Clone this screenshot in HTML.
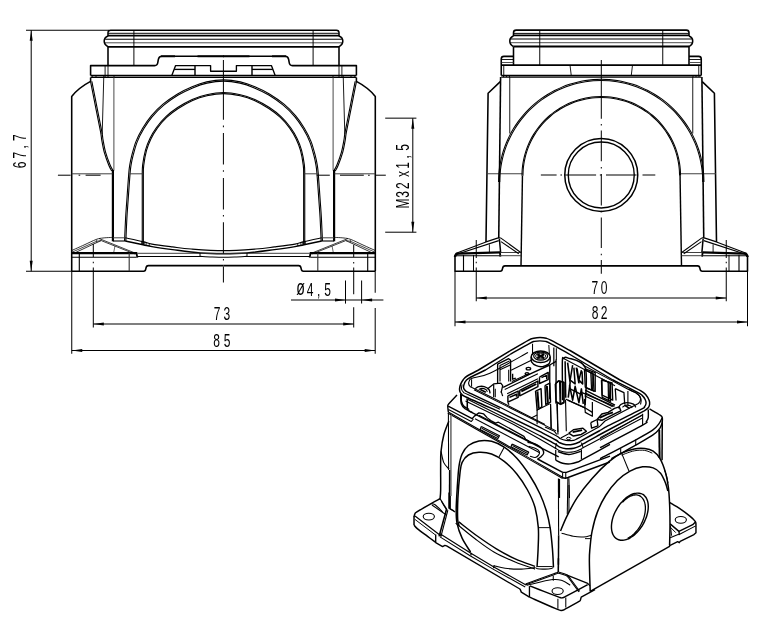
<!DOCTYPE html>
<html lang="en">
<head>
<meta charset="utf-8">
<title>Housing drawing</title>
<style>
html,body{margin:0;padding:0;background:#fff;}
body{width:760px;height:622px;overflow:hidden;}
svg{display:block;will-change:transform;}
svg path{fill:none;stroke-linecap:butt;stroke-linejoin:round;}
svg path.a{fill:#000;stroke:none;}
svg text{font-family:"Liberation Sans","DejaVu Sans",sans-serif;fill:#000;stroke:none;}
</style>
</head>
<body>
<svg width="760" height="622" viewBox="0 0 760 622">
<rect x="0" y="0" width="760" height="622" fill="#fff"/>
<path d="M108 36.2 L108 32.6" stroke="#000" stroke-width="1.57"/>
<path d="M339 36.2 L339 32.6" stroke="#000" stroke-width="1.57"/>
<path d="M108 32.8 Q108 30.2 110.6 30.2 L336.4 30.2 Q339 30.2 339 32.8" stroke="#000" stroke-width="1.57"/>
<path d="M108.2 33.3 L338.8 33.3" stroke="#000" stroke-width="0.97"/>
<path d="M108 35.6 L339 35.6" stroke="#000" stroke-width="1.8"/>
<path d="M105.2 39.2 L341.8 39.2" stroke="#000" stroke-width="1.12"/>
<path d="M104.6 42.8 L342.4 42.8" stroke="#3a3a3a" stroke-width="0.9"/>
<path d="M108 46.8 L339 46.8" stroke="#000" stroke-width="1.8"/>
<path d="M108 36 C105.6 37 104.2 38.6 104.2 41 C104.2 43.8 106 45.6 108 46.7" stroke="#000" stroke-width="1.57"/>
<path d="M339 36 C341.4 37 342.8 38.6 342.8 41 C342.8 43.8 341 45.6 339 46.7" stroke="#000" stroke-width="1.57"/>
<path d="M108 46.7 L108 65.4" stroke="#000" stroke-width="1.57"/>
<path d="M339 46.7 L339 65.4" stroke="#000" stroke-width="1.57"/>
<path d="M133.9 30.2 L133.9 65.4" stroke="#000" stroke-width="0.97"/>
<path d="M313.1 30.2 L313.1 65.4" stroke="#000" stroke-width="0.97"/>
<path d="M90.6 75.6 L90.6 65.6 L154.6 65.6 C156.6 65.6 157.6 64.6 157.9 62 L158.3 59.6 C158.8 57 159.6 56.3 161.6 56.3 L223.5 56.3" stroke="#000" stroke-width="1.57"/>
<path d="M161 56.3 L175 56.3" stroke="#000" stroke-width="1.9"/>
<path d="M197.5 56.3 L224 56.3" stroke="#000" stroke-width="1.9"/>
<path d="M356.4 75.6 L356.4 65.6 L292.4 65.6 C290.4 65.6 289.4 64.6 289.1 62 L288.7 59.6 C288.2 57 287.4 56.3 285.4 56.3 L223.5 56.3" stroke="#000" stroke-width="1.57"/>
<path d="M286 56.3 L272 56.3" stroke="#000" stroke-width="1.9"/>
<path d="M249.5 56.3 L223 56.3" stroke="#000" stroke-width="1.9"/>
<path d="M90.6 75.6 L356.4 75.6" stroke="#000" stroke-width="1.57"/>
<path d="M90.6 77.4 L356.4 77.4" stroke="#000" stroke-width="1.05"/>
<path d="M105.1 65.6 L105.1 77.4" stroke="#000" stroke-width="0.9"/>
<path d="M341.9 65.6 L341.9 77.4" stroke="#000" stroke-width="0.9"/>
<path d="M108 65.6 L108 77.4" stroke="#000" stroke-width="0.9"/>
<path d="M339 65.6 L339 77.4" stroke="#000" stroke-width="0.9"/>
<path d="M92.2 75.6 L92.2 77.4" stroke="#000" stroke-width="0.9"/>
<path d="M354.8 75.6 L354.8 77.4" stroke="#000" stroke-width="0.9"/>
<path d="M96 75.6 L96 77.4" stroke="#000" stroke-width="0.9"/>
<path d="M351 75.6 L351 77.4" stroke="#000" stroke-width="0.9"/>
<path d="M103.8 75.6 L103.8 77.4" stroke="#000" stroke-width="0.9"/>
<path d="M343.2 75.6 L343.2 77.4" stroke="#000" stroke-width="0.9"/>
<path d="M114 75.6 L114 77.4" stroke="#000" stroke-width="0.9"/>
<path d="M333 75.6 L333 77.4" stroke="#000" stroke-width="0.9"/>
<path d="M171.9 75.2 L175.6 65.6 L210.6 65.6 L210.6 71.25 L223.5 71.25" stroke="#000" stroke-width="1.35"/>
<path d="M275.1 75.2 L271.4 65.6 L236.4 65.6 L236.4 71.25 L223.5 71.25" stroke="#000" stroke-width="1.35"/>
<path d="M174.2 69.4 L195 69.4" stroke="#000" stroke-width="1.35"/>
<path d="M272.8 69.4 L252 69.4" stroke="#000" stroke-width="1.35"/>
<path d="M195 65.6 L195 75.2" stroke="#000" stroke-width="1.43"/>
<path d="M252 65.6 L252 75.2" stroke="#000" stroke-width="1.43"/>
<path d="M71.7 271.25 L71.7 96.4 Q78.85 87.6 90.6 81.4 L90.6 77.4" stroke="#000" stroke-width="1.57"/>
<path d="M375.3 271.25 L375.3 96.4 Q368.15 87.6 356.4 81.4 L356.4 77.4" stroke="#000" stroke-width="1.57"/>
<path d="M90.56 81.53C91.4 85.79 93.94 98.69 95.61 107.13C97.29 115.56 99.59 126.62 100.61 132.12C101.64 137.62 101.13 136.69 101.76 140.12C102.39 143.54 103.2 148.49 104.37 152.68C105.55 156.86 107.58 162.21 108.8 165.24C110.01 168.28 111.19 169.95 111.67 170.89" stroke="#000" stroke-width="1.09"/>
<path d="M356.44 81.53C355.6 85.79 353.06 98.69 351.39 107.13C349.71 115.56 347.41 126.62 346.39 132.12C345.36 137.62 345.87 136.69 345.24 140.12C344.61 143.54 343.8 148.49 342.63 152.68C341.45 156.86 339.42 162.21 338.2 165.24C336.99 168.28 335.81 169.95 335.33 170.89" stroke="#000" stroke-width="1.09"/>
<path d="M91.84 81.27C92.68 85.54 95.21 98.44 96.89 106.87C98.56 115.31 100.86 126.38 101.89 131.88C102.91 137.38 102.42 136.48 103.04 139.88C103.66 143.29 104.47 148.18 105.63 152.32C106.79 156.47 108.8 161.76 110 164.76C111.2 167.76 112.36 169.38 112.83 170.31" stroke="#000" stroke-width="1.09"/>
<path d="M355.16 81.27C354.32 85.54 351.79 98.44 350.11 106.87C348.44 115.31 346.14 126.38 345.11 131.88C344.09 137.38 344.58 136.48 343.96 139.88C343.34 143.29 342.53 148.18 341.37 152.32C340.21 156.47 338.2 161.76 337 164.76C335.8 167.76 334.64 169.38 334.17 170.31" stroke="#000" stroke-width="1.09"/>
<path d="M103.75 77.4 L102.2 134" stroke="#000" stroke-width="0.9"/>
<path d="M343.25 77.4 L344.8 134" stroke="#000" stroke-width="0.9"/>
<path d="M113.9 77.4 L113.9 170.6" stroke="#444" stroke-width="0.97"/>
<path d="M333.1 77.4 L333.1 170.6" stroke="#444" stroke-width="0.97"/>
<path d="M112.9 170 L112.9 241.3" stroke="#000" stroke-width="2.2"/>
<path d="M334.1 170 L334.1 241.3" stroke="#000" stroke-width="2.2"/>
<path d="M71.7 173.8 L112.5 173.8" stroke="#3a3a3a" stroke-width="0.97"/>
<path d="M375.3 173.8 L334.5 173.8" stroke="#3a3a3a" stroke-width="0.97"/>
<path d="M125.85 241.03C126.02 237.2 126.52 224.87 126.9 218.04C127.28 211.21 127.62 207.46 128.15 200.05C128.67 192.63 129.57 179.38 130.05 173.55C130.53 167.73 130.56 168 131.04 165.11C131.52 162.21 131.9 160.04 132.93 156.17C133.96 152.29 135.4 146.39 137.2 141.84C139.01 137.28 141.24 133.04 143.76 128.83C146.27 124.63 148.95 120.56 152.3 116.62C155.64 112.68 159.49 108.79 163.82 105.2C168.14 101.61 173.43 97.94 178.23 95.06C183.04 92.17 187.87 89.89 192.65 87.9C197.43 85.91 201.8 84.26 206.94 83.13C212.08 82.01 217.98 81.15 223.5 81.15C229.02 81.15 234.92 82.01 240.06 83.13C245.2 84.26 249.57 85.91 254.35 87.9C259.13 89.89 263.96 92.17 268.77 95.06C273.57 97.94 278.86 101.61 283.18 105.2C287.51 108.79 291.36 112.68 294.7 116.62C298.05 120.56 300.73 124.63 303.24 128.83C305.76 133.04 307.99 137.28 309.8 141.84C311.6 146.39 313.04 152.29 314.07 156.17C315.1 160.04 315.48 162.21 315.96 165.11C316.44 168 316.47 167.73 316.95 173.55C317.43 179.38 318.33 192.63 318.85 200.05C319.38 207.46 319.72 211.21 320.1 218.04C320.48 224.87 320.98 237.2 321.15 241.03" stroke="#000" stroke-width="1.09"/>
<path d="M124.55 240.97C124.73 237.14 125.22 224.8 125.6 217.96C125.98 211.13 126.33 207.37 126.85 199.95C127.38 192.53 128.27 179.29 128.75 173.45C129.24 167.6 129.27 167.83 129.76 164.89C130.25 161.96 130.63 159.76 131.67 155.83C132.71 151.91 134.17 145.97 136 141.36C137.82 136.75 140.09 132.43 142.64 128.17C145.19 123.9 147.91 119.77 151.3 115.78C154.69 111.79 158.61 107.84 162.98 104.2C167.36 100.56 172.7 96.86 177.57 93.94C182.43 91.03 187.3 88.71 192.15 86.7C197 84.69 201.44 83.01 206.66 81.87C211.89 80.72 217.89 79.85 223.5 79.85C229.11 79.85 235.11 80.72 240.34 81.87C245.56 83.01 250 84.69 254.85 86.7C259.7 88.71 264.57 91.03 269.43 93.94C274.3 96.86 279.64 100.56 284.02 104.2C288.39 107.84 292.31 111.79 295.7 115.78C299.09 119.77 301.81 123.9 304.36 128.17C306.91 132.43 309.18 136.75 311 141.36C312.83 145.97 314.29 151.91 315.33 155.83C316.37 159.76 316.75 161.96 317.24 164.89C317.73 167.83 317.76 167.6 318.25 173.45C318.73 179.29 319.62 192.53 320.15 199.95C320.67 207.37 321.02 211.13 321.4 217.96C321.78 224.8 322.27 237.14 322.45 240.97" stroke="#000" stroke-width="1.09"/>
<path d="M143.35 244.7C143.35 237.25 143.35 211.45 143.35 200C143.35 188.55 143.28 181.83 143.35 176.01C143.42 170.18 143.22 169.33 143.75 165.07C144.28 160.81 145.34 154.8 146.53 150.45C147.72 146.09 149.09 142.66 150.89 138.94C152.7 135.22 154.71 131.72 157.34 128.13C159.97 124.54 163.2 120.68 166.68 117.4C170.15 114.12 173.88 111.29 178.2 108.46C182.53 105.63 187.84 102.51 192.62 100.4C197.41 98.3 201.77 96.96 206.92 95.84C212.06 94.71 217.97 93.65 223.5 93.65C229.03 93.65 234.94 94.71 240.08 95.84C245.23 96.96 249.59 98.3 254.38 100.4C259.16 102.51 264.47 105.63 268.8 108.46C273.12 111.29 276.85 114.12 280.32 117.4C283.8 120.68 287.03 124.54 289.66 128.13C292.29 131.72 294.3 135.22 296.11 138.94C297.91 142.66 299.28 146.09 300.47 150.45C301.66 154.8 302.72 160.81 303.25 165.07C303.78 169.33 303.58 170.18 303.65 176.01C303.72 181.83 303.65 188.55 303.65 200C303.65 211.45 303.65 237.25 303.65 244.7" stroke="#000" stroke-width="1.09"/>
<path d="M142.25 244.7C142.25 237.25 142.25 211.45 142.25 200C142.25 188.55 142.18 181.84 142.25 175.99C142.32 170.15 142.12 169.24 142.65 164.93C143.19 160.63 144.26 154.57 145.47 150.15C146.68 145.74 148.07 142.24 149.91 138.46C151.74 134.68 153.79 131.12 156.46 127.47C159.13 123.83 162.4 119.92 165.92 116.6C169.45 113.28 173.22 110.41 177.6 107.54C181.97 104.67 187.33 101.53 192.18 99.4C197.03 97.27 201.46 95.9 206.68 94.76C211.9 93.62 217.89 92.55 223.5 92.55C229.11 92.55 235.1 93.62 240.32 94.76C245.54 95.9 249.97 97.27 254.82 99.4C259.67 101.53 265.03 104.67 269.4 107.54C273.78 110.41 277.55 113.28 281.08 116.6C284.6 119.92 287.87 123.83 290.54 127.47C293.21 131.12 295.26 134.68 297.09 138.46C298.93 142.24 300.32 145.74 301.53 150.15C302.74 154.57 303.81 160.63 304.35 164.93C304.88 169.24 304.68 170.15 304.75 175.99C304.82 181.84 304.75 188.55 304.75 200C304.75 211.45 304.75 237.25 304.75 244.7" stroke="#000" stroke-width="1.09"/>
<path d="M129.4 173.8 L142.6 173.8" stroke="#3a3a3a" stroke-width="0.97"/>
<path d="M317.6 173.8 L304.4 173.8" stroke="#3a3a3a" stroke-width="0.97"/>
<path d="M125.2 237.8C128.17 238.43 138.53 240.55 143 241.6C147.47 242.65 147.08 243.22 152 244.1C156.92 244.98 165.96 246.08 172.5 246.9C179.04 247.72 182.75 248.38 191.25 249C199.75 249.62 212.75 250.6 223.5 250.6C234.25 250.6 247.25 249.62 255.75 249C264.25 248.38 267.96 247.72 274.5 246.9C281.04 246.08 290.08 244.98 295 244.1C299.92 243.22 299.53 242.65 304 241.6C308.47 240.55 318.83 238.43 321.8 237.8" stroke="#000" stroke-width="1.12"/>
<path d="M125.2 241C128.17 241.62 138.53 243.77 143 244.7C147.47 245.63 147.08 245.78 152 246.6C156.92 247.42 164.5 248.53 172.5 249.6C180.5 250.67 191.5 252.3 200 253C208.5 253.7 215.67 253.8 223.5 253.8C231.33 253.8 238.5 253.7 247 253C255.5 252.3 266.5 250.67 274.5 249.6C282.5 248.53 290.08 247.42 295 246.6C299.92 245.78 299.53 245.63 304 244.7C308.47 243.77 318.83 241.62 321.8 241" stroke="#000" stroke-width="1.43"/>
<path d="M200 256.4C202 256.5 208.08 256.85 212 257C215.92 257.15 219.67 257.3 223.5 257.3C227.33 257.3 231.08 257.15 235 257C238.92 256.85 245 256.5 247 256.4" stroke="#000" stroke-width="1.09"/>
<path d="M141.9 241.3 L141.6 244.36" stroke="#000" stroke-width="0.82"/>
<path d="M305.1 241.3 L305.4 244.36" stroke="#000" stroke-width="0.82"/>
<path d="M144.4 241.98 L144.1 244.91" stroke="#000" stroke-width="0.82"/>
<path d="M302.6 241.98 L302.9 244.91" stroke="#000" stroke-width="0.82"/>
<path d="M146.25 242.48 L145.95 245.31" stroke="#000" stroke-width="0.82"/>
<path d="M300.75 242.48 L301.05 245.31" stroke="#000" stroke-width="0.82"/>
<path d="M149.4 243.33 L149.1 246.01" stroke="#000" stroke-width="0.82"/>
<path d="M297.6 243.33 L297.9 246.01" stroke="#000" stroke-width="0.82"/>
<path d="M71.7 271.25 L143.6 271.25 C145.2 271.25 145.6 270.6 145.9 268.4 C146.2 266.2 146.8 265.6 148.4 265.6 L223.5 265.6" stroke="#000" stroke-width="1.57"/>
<path d="M375.3 271.25 L303.4 271.25 C301.8 271.25 301.4 270.6 301.1 268.4 C300.8 266.2 300.2 265.6 298.6 265.6 L223.5 265.6" stroke="#000" stroke-width="1.57"/>
<path d="M71.7 253.2 L137.2 253.2" stroke="#000" stroke-width="2.2"/>
<path d="M375.3 253.2 L309.8 253.2" stroke="#000" stroke-width="2.2"/>
<path d="M71.7 257.2 L136.5 257.2" stroke="#000" stroke-width="1.05"/>
<path d="M375.3 257.2 L310.5 257.2" stroke="#000" stroke-width="1.05"/>
<path d="M136.3 252.6 L137.4 257.6" stroke="#000" stroke-width="1.8"/>
<path d="M310.7 252.6 L309.6 257.6" stroke="#000" stroke-width="1.8"/>
<path d="M137.5 253.3 L309.5 253.3" stroke="#3a3a3a" stroke-width="0.97"/>
<path d="M137.5 256.4 L200 256.4" stroke="#000" stroke-width="1.05"/>
<path d="M309.5 256.4 L247 256.4" stroke="#000" stroke-width="1.05"/>
<path d="M200 253 L200 257" stroke="#000" stroke-width="0.97"/>
<path d="M247 253 L247 257" stroke="#000" stroke-width="0.97"/>
<path d="M79.3 254 L79.3 271.25" stroke="#000" stroke-width="1.12"/>
<path d="M367.7 254 L367.7 271.25" stroke="#000" stroke-width="1.12"/>
<path d="M129.2 253 L129.2 271.25" stroke="#333" stroke-width="1.12"/>
<path d="M317.8 253 L317.8 271.25" stroke="#333" stroke-width="1.12"/>
<path d="M72 250.4C74 249.5 79.95 246.83 84 245C88.05 243.17 93.13 240.57 96.3 239.4C99.47 238.23 100.68 238.32 103 238C105.32 237.68 108.53 237.58 110.2 237.5C111.87 237.42 112.53 237.5 113 237.5" stroke="#000" stroke-width="0.8"/>
<path d="M375 250.4C373 249.5 367.05 246.83 363 245C358.95 243.17 353.87 240.57 350.7 239.4C347.53 238.23 346.32 238.32 344 238C341.68 237.68 338.47 237.58 336.8 237.5C335.13 237.42 334.47 237.5 334 237.5" stroke="#000" stroke-width="0.8"/>
<path d="M113 237.8 L125.2 237.8" stroke="#3a3a3a" stroke-width="0.97"/>
<path d="M334 237.8 L321.8 237.8" stroke="#3a3a3a" stroke-width="0.97"/>
<path d="M113 241 L125.2 241" stroke="#000" stroke-width="1.12"/>
<path d="M334 241 L321.8 241" stroke="#000" stroke-width="1.12"/>
<path d="M72 252.2 L96.5 241.3 L101.4 240.5" stroke="#000" stroke-width="0.7"/>
<path d="M375 252.2 L350.5 241.3 L345.6 240.5" stroke="#000" stroke-width="0.7"/>
<path d="M74.5 253 L93.2 244.2 L101.4 240.5" stroke="#000" stroke-width="0.8"/>
<path d="M372.5 253 L353.8 244.2 L345.6 240.5" stroke="#000" stroke-width="0.8"/>
<path d="M96.6 239.5 L96.6 242.5" stroke="#000" stroke-width="0.6"/>
<path d="M350.4 239.5 L350.4 242.5" stroke="#000" stroke-width="0.6"/>
<path d="M99 238.5 L137.2 253.9" stroke="#000" stroke-width="0.75"/>
<path d="M348 238.5 L309.8 253.9" stroke="#000" stroke-width="0.75"/>
<path d="M101.4 240.7 L134.6 253.9" stroke="#000" stroke-width="0.75"/>
<path d="M345.6 240.7 L312.4 253.9" stroke="#000" stroke-width="0.75"/>
<path d="M115 245.7 L113.8 252" stroke="#000" stroke-width="0.6"/>
<path d="M332 245.7 L333.2 252" stroke="#000" stroke-width="0.6"/>
<path d="M513.5 36 L513.5 32.8 Q513.5 30.1 516.2 30.1 L686.3 30.1 Q689 30.1 689 32.8 L689 36" stroke="#000" stroke-width="1.57"/>
<path d="M513.7 33.4 L688.8 33.4" stroke="#000" stroke-width="0.97"/>
<path d="M513.5 35.4 L689 35.4" stroke="#000" stroke-width="1.8"/>
<path d="M510.8 39 L691.7 39" stroke="#000" stroke-width="1.12"/>
<path d="M510.2 42.7 L692.3 42.7" stroke="#3a3a3a" stroke-width="0.9"/>
<path d="M513.5 46.5 L689 46.5" stroke="#000" stroke-width="1.8"/>
<path d="M513.5 36 C511.1 37 509.8 38.6 509.8 41 C509.8 43.8 511.5 45.6 513.5 46.5" stroke="#000" stroke-width="1.57"/>
<path d="M689 36 C691.4 37 692.7 38.6 692.7 41 C692.7 43.8 691 45.6 689 46.5" stroke="#000" stroke-width="1.57"/>
<path d="M513.5 46.5 L513.5 65" stroke="#000" stroke-width="1.57"/>
<path d="M689 46.5 L689 65" stroke="#000" stroke-width="1.57"/>
<path d="M539.75 30.1 L539.75 65" stroke="#000" stroke-width="0.97"/>
<path d="M662.75 30.1 L662.75 65" stroke="#000" stroke-width="0.97"/>
<path d="M501.25 65.1 L701.25 65.1" stroke="#000" stroke-width="1.6"/>
<path d="M501.25 75.6 L501.25 59 Q501.25 56.4 503.9 56.4 L513.5 56.4" stroke="#000" stroke-width="1.57"/>
<path d="M501.6 59.5 L513.5 59.5" stroke="#000" stroke-width="0.9"/>
<path d="M501.6 62.5 L513.5 62.5" stroke="#3a3a3a" stroke-width="0.9"/>
<path d="M503.75 65.1 L503.75 75.5" stroke="#000" stroke-width="0.9"/>
<path d="M570 65.1 L571.25 75.5" stroke="#000" stroke-width="0.9"/>
<path d="M701.25 75.6 L701.25 59 Q701.25 56.4 698.6 56.4 L689 56.4" stroke="#000" stroke-width="1.57"/>
<path d="M700.9 59.5 L689 59.5" stroke="#000" stroke-width="0.9"/>
<path d="M700.9 62.5 L689 62.5" stroke="#3a3a3a" stroke-width="0.9"/>
<path d="M698.75 65.1 L698.75 75.5" stroke="#000" stroke-width="0.9"/>
<path d="M632.5 65.1 L631.25 75.5" stroke="#000" stroke-width="0.9"/>
<path d="M501.25 75.5 L701.25 75.5" stroke="#000" stroke-width="1.57"/>
<path d="M501.25 77.1 L701.25 77.1" stroke="#000" stroke-width="1.05"/>
<path d="M503.5 75.5 L503.5 77.1" stroke="#000" stroke-width="0.9"/>
<path d="M699 75.5 L699 77.1" stroke="#000" stroke-width="0.9"/>
<path d="M506.5 75.5 L506.5 77.1" stroke="#000" stroke-width="0.9"/>
<path d="M696 75.5 L696 77.1" stroke="#000" stroke-width="0.9"/>
<path d="M509.5 75.5 L509.5 77.1" stroke="#000" stroke-width="0.9"/>
<path d="M693 75.5 L693 77.1" stroke="#000" stroke-width="0.9"/>
<path d="M500.6 77 L498.75 238.1" stroke="#000" stroke-width="1.57"/>
<path d="M701.9 77 L703.75 238.1" stroke="#000" stroke-width="1.57"/>
<path d="M509.75 77 L509.75 133.5" stroke="#000" stroke-width="0.9"/>
<path d="M692.75 77 L692.75 133.5" stroke="#000" stroke-width="0.9"/>
<path d="M500.3 81.6 L488.1 93.25 L486 241.9" stroke="#000" stroke-width="1.57"/>
<path d="M702.2 81.6 L714.4 93.25 L716.5 241.9" stroke="#000" stroke-width="1.57"/>
<path d="M486.5 173.75 L522.5 173.75" stroke="#3a3a3a" stroke-width="0.97"/>
<path d="M716 173.75 L680 173.75" stroke="#3a3a3a" stroke-width="0.97"/>
<path d="M499.75 182.02C499.8 180.69 499.85 176.69 500.06 174.04C500.27 171.39 500.58 168.74 501 166.12C501.41 163.5 501.93 160.89 502.55 158.31C503.17 155.72 503.9 153.16 504.72 150.63C505.54 148.11 506.46 145.61 507.48 143.16C508.49 140.71 509.61 138.29 510.81 135.92C512.02 133.55 513.32 131.23 514.71 128.97C516.09 126.7 517.57 124.49 519.13 122.34C520.7 120.19 522.34 118.1 524.07 116.08C525.79 114.06 527.6 112.11 529.48 110.23C531.36 108.35 533.31 106.54 535.33 104.82C537.35 103.09 539.44 101.45 541.59 99.88C543.74 98.32 545.95 96.84 548.22 95.46C550.48 94.07 552.8 92.77 555.17 91.56C557.54 90.36 559.96 89.24 562.41 88.23C564.86 87.21 567.36 86.29 569.88 85.47C572.41 84.65 574.97 83.92 577.56 83.3C580.14 82.68 582.75 82.16 585.37 81.75C587.99 81.33 590.64 81.02 593.29 80.81C595.93 80.6 598.6 80.5 601.25 80.5C603.9 80.5 606.57 80.6 609.21 80.81C611.86 81.02 614.51 81.33 617.13 81.75C619.75 82.16 622.36 82.68 624.94 83.3C627.53 83.92 630.09 84.65 632.62 85.47C635.14 86.29 637.64 87.21 640.09 88.23C642.54 89.24 644.96 90.36 647.33 91.56C649.7 92.77 652.02 94.07 654.28 95.46C656.55 96.84 658.76 98.32 660.91 99.88C663.06 101.45 665.15 103.09 667.17 104.82C669.19 106.54 671.14 108.35 673.02 110.23C674.9 112.11 676.71 114.06 678.43 116.08C680.16 118.1 681.8 120.19 683.37 122.34C684.93 124.49 686.41 126.7 687.79 128.97C689.18 131.23 690.48 133.55 691.69 135.92C692.89 138.29 694.01 140.71 695.02 143.16C696.04 145.61 696.96 148.11 697.78 150.63C698.6 153.16 699.33 155.72 699.95 158.31C700.57 160.89 701.09 163.5 701.5 166.12C701.92 168.74 702.23 171.39 702.44 174.04C702.65 176.69 702.7 180.69 702.75 182.02" stroke="#000" stroke-width="1.05"/>
<path d="M498.55 181.98C498.6 180.64 498.66 176.62 498.87 173.94C499.08 171.27 499.39 168.59 499.81 165.93C500.23 163.28 500.76 160.64 501.39 158.03C502.01 155.41 502.75 152.82 503.58 150.26C504.41 147.71 505.34 145.18 506.37 142.7C507.4 140.22 508.52 137.77 509.74 135.38C510.96 132.98 512.28 130.63 513.68 128.34C515.09 126.05 516.59 123.81 518.16 121.63C519.74 119.46 521.41 117.34 523.16 115.3C524.9 113.26 526.73 111.28 528.63 109.38C530.53 107.48 532.51 105.65 534.55 103.91C536.59 102.16 538.71 100.49 540.88 98.91C543.06 97.34 545.3 95.84 547.59 94.43C549.88 93.03 552.23 91.71 554.63 90.49C557.02 89.27 559.47 88.15 561.95 87.12C564.43 86.09 566.96 85.16 569.51 84.33C572.07 83.5 574.66 82.76 577.28 82.14C579.89 81.51 582.53 80.98 585.18 80.56C587.84 80.14 590.51 79.83 593.19 79.62C595.87 79.41 598.56 79.3 601.25 79.3C603.94 79.3 606.63 79.41 609.31 79.62C611.99 79.83 614.66 80.14 617.32 80.56C619.97 80.98 622.61 81.51 625.22 82.14C627.84 82.76 630.43 83.5 632.99 84.33C635.54 85.16 638.07 86.09 640.55 87.12C643.03 88.15 645.48 89.27 647.87 90.49C650.27 91.71 652.62 93.03 654.91 94.43C657.2 95.84 659.44 97.34 661.62 98.91C663.79 100.49 665.91 102.16 667.95 103.91C669.99 105.65 671.97 107.48 673.87 109.38C675.77 111.28 677.6 113.26 679.34 115.3C681.09 117.34 682.76 119.46 684.34 121.63C685.91 123.81 687.41 126.05 688.82 128.34C690.22 130.63 691.54 132.98 692.76 135.38C693.98 137.77 695.1 140.22 696.13 142.7C697.16 145.18 698.09 147.71 698.92 150.26C699.75 152.82 700.49 155.41 701.11 158.03C701.74 160.64 702.27 163.28 702.69 165.93C703.11 168.59 703.42 171.27 703.63 173.94C703.84 176.62 703.9 180.64 703.95 181.98" stroke="#000" stroke-width="1.05"/>
<path d="M522.95 175.82C522.99 174.79 523.03 171.7 523.19 169.66C523.35 167.61 523.59 165.57 523.91 163.55C524.23 161.53 524.64 159.51 525.11 157.52C525.59 155.53 526.15 153.55 526.78 151.6C527.42 149.66 528.13 147.73 528.91 145.84C529.69 143.94 530.55 142.08 531.48 140.25C532.41 138.43 533.42 136.63 534.49 134.89C535.56 133.14 536.7 131.43 537.9 129.78C539.11 128.12 540.38 126.51 541.71 124.95C543.04 123.39 544.44 121.88 545.88 120.43C547.33 118.99 548.84 117.59 550.4 116.26C551.96 114.93 553.57 113.66 555.23 112.45C556.88 111.25 558.59 110.11 560.34 109.04C562.08 107.97 563.88 106.96 565.7 106.03C567.53 105.1 569.39 104.24 571.29 103.46C573.18 102.68 575.11 101.97 577.05 101.33C579 100.7 580.98 100.14 582.97 99.66C584.96 99.19 586.98 98.78 589 98.46C591.02 98.14 593.07 97.9 595.11 97.74C597.15 97.58 599.2 97.5 601.25 97.5C603.3 97.5 605.35 97.58 607.39 97.74C609.43 97.9 611.48 98.14 613.5 98.46C615.52 98.78 617.54 99.19 619.53 99.66C621.52 100.14 623.5 100.7 625.45 101.33C627.39 101.97 629.32 102.68 631.21 103.46C633.11 104.24 634.97 105.1 636.8 106.03C638.62 106.96 640.42 107.97 642.16 109.04C643.91 110.11 645.62 111.25 647.27 112.45C648.93 113.66 650.54 114.93 652.1 116.26C653.66 117.59 655.17 118.99 656.62 120.43C658.06 121.88 659.46 123.39 660.79 124.95C662.12 126.51 663.39 128.12 664.6 129.78C665.8 131.43 666.94 133.14 668.01 134.89C669.08 136.63 670.09 138.43 671.02 140.25C671.95 142.08 672.81 143.94 673.59 145.84C674.37 147.73 675.08 149.66 675.72 151.6C676.35 153.55 676.91 155.53 677.39 157.52C677.86 159.51 678.27 161.53 678.59 163.55C678.91 165.57 679.15 167.61 679.31 169.66C679.47 171.7 679.51 174.79 679.55 175.82" stroke="#000" stroke-width="1.05"/>
<path d="M521.95 175.78C521.99 174.75 522.03 171.64 522.19 169.58C522.36 167.51 522.6 165.44 522.93 163.39C523.25 161.35 523.66 159.3 524.14 157.29C524.63 155.27 525.19 153.27 525.83 151.29C526.47 149.32 527.19 147.37 527.99 145.45C528.78 143.54 529.65 141.65 530.59 139.8C531.53 137.95 532.55 136.13 533.64 134.37C534.72 132.6 535.88 130.87 537.09 129.19C538.31 127.51 539.6 125.88 540.95 124.3C542.3 122.72 543.71 121.19 545.18 119.73C546.64 118.26 548.17 116.85 549.75 115.5C551.33 114.15 552.96 112.86 554.64 111.64C556.32 110.43 558.05 109.27 559.82 108.19C561.58 107.1 563.4 106.08 565.25 105.14C567.1 104.2 568.99 103.33 570.9 102.54C572.82 101.74 574.77 101.02 576.74 100.38C578.72 99.74 580.72 99.18 582.74 98.69C584.75 98.21 586.8 97.8 588.84 97.48C590.89 97.15 592.96 96.91 595.03 96.74C597.1 96.58 599.18 96.5 601.25 96.5C603.32 96.5 605.4 96.58 607.47 96.74C609.54 96.91 611.61 97.15 613.66 97.48C615.7 97.8 617.75 98.21 619.76 98.69C621.78 99.18 623.78 99.74 625.76 100.38C627.73 101.02 629.68 101.74 631.6 102.54C633.51 103.33 635.4 104.2 637.25 105.14C639.1 106.08 640.92 107.1 642.68 108.19C644.45 109.27 646.18 110.43 647.86 111.64C649.54 112.86 651.17 114.15 652.75 115.5C654.33 116.85 655.86 118.26 657.32 119.73C658.79 121.19 660.2 122.72 661.55 124.3C662.9 125.88 664.19 127.51 665.41 129.19C666.62 130.87 667.78 132.6 668.86 134.37C669.95 136.13 670.97 137.95 671.91 139.8C672.85 141.65 673.72 143.54 674.51 145.45C675.31 147.37 676.03 149.32 676.67 151.29C677.31 153.27 677.87 155.27 678.36 157.29C678.84 159.3 679.25 161.35 679.57 163.39C679.9 165.44 680.14 167.51 680.31 169.58C680.47 171.64 680.51 174.75 680.55 175.78" stroke="#000" stroke-width="1.05"/>
<path d="M522.45 175.8 L521 266" stroke="#000" stroke-width="1.43"/>
<path d="M680.05 175.8 L681.5 266" stroke="#000" stroke-width="1.43"/>
<circle cx="601.25" cy="175" r="36.5" fill="none" stroke="#000" stroke-width="1.5"/>
<circle cx="601.25" cy="175" r="33" fill="none" stroke="#000" stroke-width="1.4"/>
<path d="M455 256 L455 271.25 L500.2 271.25 C501.8 271.25 502.2 270.8 502.5 268.6 C502.8 266.4 503.4 265.9 505 265.9 L601.25 265.9" stroke="#000" stroke-width="1.57"/>
<path d="M455 257 Q455.2 253.9 458 253.6 L500 252.4" stroke="#000" stroke-width="2.4"/>
<path d="M455 255.8 L500 255.8" stroke="#000" stroke-width="1.05"/>
<path d="M499.8 251.8 L500.4 256.6" stroke="#000" stroke-width="1.8"/>
<path d="M500 252.5 L520.6 252.5" stroke="#3a3a3a" stroke-width="0.97"/>
<path d="M500 255.7 L521 255.7" stroke="#3a3a3a" stroke-width="0.97"/>
<path d="M463.5 255 L463.5 271.25" stroke="#000" stroke-width="1.12"/>
<path d="M473.5 255 L473.5 271.25" stroke="#000" stroke-width="0.97"/>
<path d="M489.4 244.4 L489.4 252.5" stroke="#000" stroke-width="0.9"/>
<path d="M455.6 253.6 L486 241.9 L497.5 238.1 L500.6 237.9" stroke="#000" stroke-width="1.12"/>
<path d="M457 254.2 L498.75 240.6" stroke="#000" stroke-width="1.12"/>
<path d="M500.6 237.9 L520.8 252.5" stroke="#000" stroke-width="1.05"/>
<path d="M501 241.6 L518.75 253.75" stroke="#000" stroke-width="1.05"/>
<path d="M499.4 239 L500.6 252.4" stroke="#000" stroke-width="1.5"/>
<path d="M747.5 256 L747.5 271.25 L702.3 271.25 C700.7 271.25 700.3 270.8 700 268.6 C699.7 266.4 699.1 265.9 697.5 265.9 L601.25 265.9" stroke="#000" stroke-width="1.57"/>
<path d="M747.5 257 Q747.3 253.9 744.5 253.6 L702.5 252.4" stroke="#000" stroke-width="2.4"/>
<path d="M747.5 255.8 L702.5 255.8" stroke="#000" stroke-width="1.05"/>
<path d="M702.7 251.8 L702.1 256.6" stroke="#000" stroke-width="1.8"/>
<path d="M702.5 252.5 L681.9 252.5" stroke="#3a3a3a" stroke-width="0.97"/>
<path d="M702.5 255.7 L681.5 255.7" stroke="#3a3a3a" stroke-width="0.97"/>
<path d="M739 255 L739 271.25" stroke="#000" stroke-width="1.12"/>
<path d="M729 255 L729 271.25" stroke="#000" stroke-width="0.97"/>
<path d="M713.1 244.4 L713.1 252.5" stroke="#000" stroke-width="0.9"/>
<path d="M746.9 253.6 L716.5 241.9 L705 238.1 L701.9 237.9" stroke="#000" stroke-width="1.12"/>
<path d="M745.5 254.2 L703.75 240.6" stroke="#000" stroke-width="1.12"/>
<path d="M701.9 237.9 L681.7 252.5" stroke="#000" stroke-width="1.05"/>
<path d="M701.5 241.6 L683.75 253.75" stroke="#000" stroke-width="1.05"/>
<path d="M703.1 239 L701.9 252.4" stroke="#000" stroke-width="1.5"/>
<path d="M223.4 60 L223.4 119.7" stroke="#000" stroke-width="1.01"/>
<path d="M223.4 133 L223.4 164.5" stroke="#000" stroke-width="1.01"/>
<path d="M223.4 178 L223.4 209.6" stroke="#000" stroke-width="1.01"/>
<path d="M223.4 222.3 L223.4 253.5" stroke="#000" stroke-width="1.01"/>
<path d="M223.4 266.5 L223.4 282.6" stroke="#000" stroke-width="1.01"/>
<path d="M223.4 125.6 L223.4 127.2" stroke="#000" stroke-width="1.01"/>
<path d="M223.4 170.2 L223.4 171.8" stroke="#000" stroke-width="1.01"/>
<path d="M223.4 214.9 L223.4 216.5" stroke="#000" stroke-width="1.01"/>
<path d="M223.4 259 L223.4 260.6" stroke="#000" stroke-width="1.01"/>
<path d="M57.9 175.2 L70.6 175.2" stroke="#000" stroke-width="1.01"/>
<path d="M85.6 175.2 L100.6 175.2" stroke="#000" stroke-width="1.01"/>
<path d="M316.8 175.2 L329.8 175.2" stroke="#000" stroke-width="1.01"/>
<path d="M340 175.2 L363.8 175.2" stroke="#000" stroke-width="1.01"/>
<path d="M375.4 175.2 L385.8 175.2" stroke="#000" stroke-width="1.01"/>
<path d="M78.6 175.2 L80.2 175.2" stroke="#000" stroke-width="1.01"/>
<path d="M368.1 175.2 L369.7 175.2" stroke="#000" stroke-width="1.01"/>
<path d="M93.3 244 L93.3 257" stroke="#000" stroke-width="1.01"/>
<path d="M93.3 267.5 L93.3 327.5" stroke="#000" stroke-width="1.01"/>
<path d="M93.3 261.7 L93.3 263.3" stroke="#000" stroke-width="1.01"/>
<path d="M353.7 244.7 L353.7 257" stroke="#000" stroke-width="1.01"/>
<path d="M353.7 267.5 L353.7 294.2" stroke="#000" stroke-width="1.01"/>
<path d="M353.7 307.2 L353.7 327.5" stroke="#000" stroke-width="1.01"/>
<path d="M353.7 262 L353.7 263.6" stroke="#000" stroke-width="1.01"/>
<path d="M601.3 60 L601.3 118.75" stroke="#000" stroke-width="1.01"/>
<path d="M601.3 130.6 L601.3 161.2" stroke="#000" stroke-width="1.01"/>
<path d="M601.3 174 L601.3 205.6" stroke="#000" stroke-width="1.01"/>
<path d="M601.3 217.4 L601.3 248" stroke="#000" stroke-width="1.01"/>
<path d="M601.3 260 L601.3 273.75" stroke="#000" stroke-width="1.01"/>
<path d="M601.3 123.9 L601.3 125.5" stroke="#000" stroke-width="1.01"/>
<path d="M601.3 166.9 L601.3 168.5" stroke="#000" stroke-width="1.01"/>
<path d="M601.3 210.7 L601.3 212.3" stroke="#000" stroke-width="1.01"/>
<path d="M601.3 253.7 L601.3 255.3" stroke="#000" stroke-width="1.01"/>
<path d="M540.85 175 L556.6 175" stroke="#000" stroke-width="1.01"/>
<path d="M565.1 175 L596.1 175" stroke="#000" stroke-width="1.01"/>
<path d="M606 175 L636.6 175" stroke="#000" stroke-width="1.01"/>
<path d="M642.5 175 L655.3 175" stroke="#000" stroke-width="1.01"/>
<path d="M560.4 175 L562 175" stroke="#000" stroke-width="1.01"/>
<path d="M599.85 175 L601.45 175" stroke="#000" stroke-width="1.01"/>
<path d="M476.25 240 L476.25 258" stroke="#000" stroke-width="1.01"/>
<path d="M476.25 267.5 L476.25 301.25" stroke="#000" stroke-width="1.01"/>
<path d="M476.25 261.7 L476.25 263.3" stroke="#000" stroke-width="1.01"/>
<path d="M726.25 240 L726.25 258" stroke="#000" stroke-width="1.01"/>
<path d="M726.25 267.5 L726.25 301.25" stroke="#000" stroke-width="1.01"/>
<path d="M726.25 261.7 L726.25 263.3" stroke="#000" stroke-width="1.01"/>
<path d="M26 30.25 L109 30.25" stroke="#000" stroke-width="1.01"/>
<path d="M26 271.25 L72 271.25" stroke="#000" stroke-width="1.01"/>
<path d="M31.2 30.25 L31.2 271.25" stroke="#000" stroke-width="1.01"/>
<path class="a" d="M31.2 30.25 L32.7 40.75 L29.7 40.75 Z"/>
<path class="a" d="M31.2 271.25 L29.7 260.75 L32.7 260.75 Z"/>
<text transform="translate(26.2 164.8) rotate(-90) scale(0.64 1)" x="0 15 27.97 42.34" y="0" font-size="18.8" text-anchor="middle">67,7</text>
<path d="M93.3 323.9 L353.7 323.9" stroke="#000" stroke-width="1.01"/>
<path class="a" d="M93.3 323.9 L103.8 322.4 L103.8 325.4 Z"/>
<path class="a" d="M353.7 323.9 L343.2 325.4 L343.2 322.4 Z"/>
<text transform="translate(217.1 319.6) scale(0.64 1)" x="0 15.16" y="0" font-size="18.8" text-anchor="middle">73</text>
<path d="M71.75 271.25 L71.75 353.75" stroke="#000" stroke-width="1.01"/>
<path d="M375.2 271.25 L375.2 292.75" stroke="#000" stroke-width="1.01"/>
<path d="M375.2 308 L375.2 353.75" stroke="#000" stroke-width="1.01"/>
<path d="M71.75 350.5 L375.2 350.5" stroke="#000" stroke-width="1.01"/>
<path class="a" d="M71.75 350.5 L82.25 349 L82.25 352 Z"/>
<path class="a" d="M375.2 350.5 L364.7 352 L364.7 349 Z"/>
<text transform="translate(216.7 346.6) scale(0.64 1)" x="0 16.09" y="0" font-size="18.8" text-anchor="middle">85</text>
<path d="M291 300 L383.4 300" stroke="#000" stroke-width="1.01"/>
<path d="M345.5 280.5 L345.5 303.6" stroke="#000" stroke-width="1.01"/>
<path d="M361.6 280.5 L361.6 303.6" stroke="#000" stroke-width="1.01"/>
<path class="a" d="M345.5 300 L335 301.5 L335 298.5 Z"/>
<path class="a" d="M361.6 300 L372.1 298.5 L372.1 301.5 Z"/>
<text transform="translate(300.7 295.3) scale(0.66 1)" x="0" y="0" font-size="21.5" text-anchor="middle">ø</text>
<text transform="translate(310 295.7) scale(0.64 1)" x="0 13.75 27.34" y="0" font-size="18.8" text-anchor="middle">4,5</text>
<path d="M385.2 118.15 L416.4 118.15" stroke="#000" stroke-width="1.01"/>
<path d="M385.2 232.2 L416.4 232.2" stroke="#000" stroke-width="1.01"/>
<path d="M412.8 118.15 L412.8 232.2" stroke="#000" stroke-width="1.01"/>
<path class="a" d="M412.8 118.15 L414.3 128.65 L411.3 128.65 Z"/>
<path class="a" d="M412.8 232.2 L411.3 221.7 L414.3 221.7 Z"/>
<text transform="translate(409 203.6) rotate(-90) scale(0.64 1)" x="0 14.37 28.12 46.25 59.69 72.97 87.66" y="0" font-size="18.8" text-anchor="middle">M32x1,5</text>
<path d="M476.25 298 L726.25 298" stroke="#000" stroke-width="1.01"/>
<path class="a" d="M476.25 298 L486.75 296.5 L486.75 299.5 Z"/>
<path class="a" d="M726.25 298 L715.75 299.5 L715.75 296.5 Z"/>
<text transform="translate(594.8 293.8) scale(0.64 1)" x="0 14.69" y="0" font-size="18.8" text-anchor="middle">70</text>
<path d="M455 271.25 L455 326.25" stroke="#000" stroke-width="1.01"/>
<path d="M747.5 271.25 L747.5 326.25" stroke="#000" stroke-width="1.01"/>
<path d="M455 322 L747.5 322" stroke="#000" stroke-width="1.01"/>
<path class="a" d="M455 322 L465.5 320.5 L465.5 323.5 Z"/>
<path class="a" d="M747.5 322 L737 323.5 L737 320.5 Z"/>
<text transform="translate(595 318.7) scale(0.64 1)" x="0 14.38" y="0" font-size="18.8" text-anchor="middle">82</text>
<path d="M470.53 552.05C469.12 549.74 464.35 542.93 462.11 538.16C459.86 533.39 458.04 528.33 457.05 523.42C456.07 518.51 456.18 514.65 456.21 508.68C456.25 502.72 456.81 494.65 457.26 487.63C457.72 480.61 458.14 472.19 458.95 466.58C459.75 460.96 460.53 457.46 462.11 453.95C463.68 450.44 465.61 447.7 468.42 445.53C471.23 443.35 475.09 441.6 478.95 440.89C482.81 440.19 487.37 440.26 491.58 441.32C495.79 442.37 500 444.4 504.21 447.21C508.42 450.02 512.63 453.53 516.84 458.16C521.05 462.79 525.61 469.04 529.47 475C533.33 480.96 537.19 487.98 540 493.95C542.81 499.91 544.63 505.18 546.32 510.79C548 516.4 549.09 521.32 550.11 527.63C551.12 533.95 551.86 542.09 552.42 548.68C552.98 555.28 553.3 564.12 553.47 567.21" stroke="#000" stroke-width="1.5"/>
<path d="M459.16 525.95C458.91 524.82 457.89 523.84 457.68 519.21C457.47 514.58 457.51 505.88 457.89 498.16C458.28 490.44 459.3 478.86 460 472.89C460.7 466.93 460.7 465.35 462.11 462.37C463.51 459.39 465.61 456.68 468.42 455C471.23 453.32 475.09 452.44 478.95 452.26C482.81 452.09 487.37 452.44 491.58 453.95C495.79 455.46 500 457.98 504.21 461.32C508.42 464.65 512.98 469.21 516.84 473.95C520.7 478.68 524.39 484.3 527.37 489.74C530.35 495.18 532.91 500.26 534.74 506.58C536.56 512.89 537.75 520.61 538.32 527.63C538.88 534.65 538.32 542.16 538.11 548.68C537.89 555.21 537.23 563.77 537.05 566.79" stroke="#000" stroke-width="1.5"/>
<path d="M504.21 447.21 L498.95 457.11" stroke="#000" stroke-width="1.05"/>
<path d="M538.53 527.63 L550.32 527.63" stroke="#000" stroke-width="0.97"/>
<path d="M560.53 531.05C561.58 528.6 564.04 521.93 566.84 516.32C569.65 510.7 573.16 503.68 577.37 497.37C581.58 491.05 586.84 484.39 592.11 478.42C597.37 472.46 604.04 465.79 608.95 461.58C613.86 457.37 617.37 455.26 621.58 453.16C625.79 451.05 630.35 449.72 634.21 448.95C638.07 448.18 641.58 448.18 644.74 448.53C647.89 448.88 650.63 449.4 653.16 451.05C655.68 452.7 657.86 454.91 659.89 458.42C661.93 461.93 663.96 467.37 665.37 472.11C666.77 476.84 667.61 481.58 668.32 486.84C669.02 492.11 669.3 497.37 669.58 503.68C669.86 510 670 517.79 670 524.74C670 531.68 669.65 541.93 669.58 545.37" stroke="#000" stroke-width="1.5"/>
<path d="M590.21 591.47C590.07 586.39 589.4 568.21 589.37 560.95C589.33 553.68 589.54 552.88 590 547.89C590.46 542.91 590.88 537.02 592.11 531.05C593.33 525.09 595.09 518.07 597.37 512.11C599.65 506.14 602.46 500.53 605.79 495.26C609.12 490 613.33 484.56 617.37 480.53C621.4 476.49 625.79 473.33 630 471.05C634.21 468.77 638.77 467.37 642.63 466.84C646.49 466.32 650.18 466.84 653.16 467.89C656.14 468.95 658.49 470.7 660.53 473.16C662.56 475.61 664.14 479.65 665.37 482.63C666.6 485.61 667.47 489.65 667.89 491.05" stroke="#000" stroke-width="1.5"/>
<path d="M621.58 453.16 L628.95 471.05" stroke="#000" stroke-width="1.05"/>
<path d="M621.58 455.05C623.68 454.35 630.35 451.61 634.21 450.84C638.07 450.07 641.72 450.04 644.74 450.42C647.75 450.81 651.05 452.7 652.32 453.16" stroke="#000" stroke-width="0.97"/>
<path d="M561.58 533.16C563.51 533.68 569.47 535.68 573.16 536.32C576.84 536.95 580.7 537.12 583.68 536.95C586.67 536.77 589.82 535.54 591.05 535.26" stroke="#000" stroke-width="1.05"/>
<path d="M659.47 430 L659.89 458.42" stroke="#000" stroke-width="1.5"/>
<path d="M558.42 478.42 L558.63 535.26" stroke="#000" stroke-width="1.12"/>
<path d="M558.63 535.26 L558.42 564.74" stroke="#000" stroke-width="1.5"/>
<path d="M567.89 477.37 L567.26 514.21" stroke="#000" stroke-width="1.05"/>
<path d="M590.21 591.47 L670 546.21" stroke="#000" stroke-width="1.43"/>
<path d="M440.09 498.78C438.52 499.62 434.55 501.6 430.69 503.8C426.83 505.99 419.56 510.23 416.9 511.94C414.25 513.65 415.25 513.24 414.77 514.07C414.29 514.91 414.15 516.47 414.02 516.95" stroke="#000" stroke-width="1.5"/>
<path d="M414.02 516.33 L414.02 525.1" stroke="#000" stroke-width="1.5"/>
<path d="M414.02 525.1C414.61 525.73 415.28 526.98 417.53 528.86C419.79 530.74 424.53 534.12 427.56 536.38C430.58 538.63 434.34 541.39 435.7 542.39" stroke="#000" stroke-width="1.5"/>
<path d="M435.7 534.5 L435.7 542.64 L442.59 546.65 L444.85 545.4 L446.6 545.9 L520.29 589.26" stroke="#000" stroke-width="1.35"/>
<path d="M415.03 516.08 L438.83 534.25 L441.34 535.63" stroke="#000" stroke-width="1.2"/>
<path d="M415.03 519.46 L435.7 535.13" stroke="#000" stroke-width="0.97"/>
<ellipse cx="428.8" cy="516.6" rx="5.6" ry="3.4" fill="none" stroke="#000" stroke-width="1.1"/>
<path d="M446.6 509.06 L439.09 536.38" stroke="#000" stroke-width="1.6"/>
<path d="M447.86 510.06 L440.84 536.88" stroke="#000" stroke-width="1.12"/>
<path d="M440.09 498.78 L446.6 509.06" stroke="#000" stroke-width="1.2"/>
<path d="M431.94 505.05 L443.85 513.2 L446.35 514.45" stroke="#000" stroke-width="1.05"/>
<path d="M430.69 503.8C431.42 503.96 433.09 503.44 435.08 504.8C437.06 506.16 441.34 510.75 442.59 511.94" stroke="#000" stroke-width="1.05"/>
<path d="M441.34 501.04C441.97 502.13 444.14 506.05 445.1 507.56C446.06 509.06 446.77 509.64 447.11 510.06" stroke="#000" stroke-width="1.05"/>
<path d="M448.86 492.52 L448.86 508.18 L455.13 511.94" stroke="#000" stroke-width="1.05"/>
<path d="M450.36 492.52 L450.36 508.81 L454.12 511.07" stroke="#000" stroke-width="1.05"/>
<path d="M568.93 485 L568.93 511.94" stroke="#000" stroke-width="1.05"/>
<path d="M585 538.63 L590.76 538.63" stroke="#000" stroke-width="0.97"/>
<path d="M648.28 506.57C648.26 506.12 648.23 504.74 648.13 503.88C648.02 503.02 647.86 502.19 647.66 501.4C647.45 500.62 647.19 499.88 646.88 499.19C646.57 498.5 646.22 497.86 645.82 497.28C645.41 496.7 644.96 496.16 644.48 495.7C643.99 495.23 643.45 494.82 642.89 494.48C642.32 494.13 641.71 493.85 641.08 493.64C640.44 493.42 639.77 493.27 639.07 493.19C638.38 493.11 637.65 493.09 636.91 493.15C636.17 493.2 635.4 493.32 634.63 493.5C633.86 493.69 633.06 493.94 632.27 494.26C631.47 494.58 630.66 494.96 629.86 495.4C629.06 495.84 628.25 496.35 627.46 496.91C626.66 497.46 625.87 498.08 625.09 498.75C624.32 499.41 623.55 500.14 622.81 500.9C622.07 501.66 621.35 502.48 620.65 503.32C619.96 504.17 619.28 505.06 618.65 505.97C618.01 506.88 617.4 507.84 616.84 508.8C616.27 509.77 615.74 510.77 615.25 511.77C614.76 512.78 614.31 513.8 613.91 514.83C613.51 515.85 613.15 516.89 612.84 517.91C612.54 518.94 612.28 519.97 612.07 520.98C611.86 521.99 611.7 522.99 611.6 523.97C611.49 524.95 611.44 525.91 611.44 526.84C611.44 527.76 611.49 528.67 611.6 529.53C611.7 530.39 611.86 531.22 612.07 532C612.28 532.79 612.54 533.53 612.84 534.22C613.15 534.9 613.51 535.55 613.91 536.13C614.31 536.71 614.76 537.24 615.25 537.71C615.74 538.18 616.27 538.59 616.84 538.93C617.4 539.28 618.01 539.56 618.65 539.77C619.28 539.99 619.96 540.14 620.65 540.22C621.35 540.3 622.07 540.32 622.81 540.26C623.55 540.21 624.32 540.09 625.09 539.9C625.87 539.72 626.66 539.46 627.46 539.15C628.25 538.83 629.06 538.45 629.86 538.01C630.66 537.57 631.47 537.06 632.27 536.5C633.06 535.94 633.86 535.33 634.63 534.66C635.4 533.99 636.17 533.27 636.91 532.51C637.65 531.75 638.38 530.93 639.07 530.09C639.77 529.24 640.44 528.35 641.08 527.44C641.71 526.52 642.32 525.57 642.89 524.6C643.45 523.64 643.99 522.64 644.48 521.63C644.96 520.63 645.41 519.6 645.82 518.58C646.22 517.56 646.57 516.52 646.88 515.5C647.19 514.47 647.45 513.44 647.66 512.43C647.86 511.42 648.02 510.42 648.13 509.44C648.23 508.46 648.26 507.05 648.28 506.57" stroke="#000" stroke-width="1.43"/>
<path d="M627.83 538.08C628.03 537.98 628.65 537.7 629.06 537.48C629.47 537.26 629.88 537.02 630.29 536.76C630.7 536.5 631.11 536.22 631.52 535.92C631.93 535.62 632.33 535.31 632.73 534.98C633.14 534.64 633.53 534.29 633.93 533.93C634.32 533.56 634.71 533.18 635.09 532.78C635.48 532.38 635.86 531.97 636.23 531.54C636.6 531.11 636.96 530.67 637.32 530.22C637.67 529.76 638.02 529.29 638.36 528.82C638.7 528.34 639.03 527.85 639.35 527.35C639.67 526.85 639.99 526.34 640.29 525.82C640.59 525.3 640.88 524.77 641.15 524.24C641.43 523.71 641.7 523.16 641.95 522.62C642.21 522.07 642.45 521.52 642.68 520.97C642.91 520.41 643.12 519.85 643.32 519.29C643.52 518.73 643.71 518.17 643.89 517.6C644.06 517.04 644.22 516.47 644.36 515.91C644.51 515.35 644.64 514.78 644.76 514.23C644.87 513.67 644.97 513.11 645.06 512.56C645.14 512.01 645.21 511.46 645.26 510.92C645.32 510.37 645.35 509.84 645.38 509.31C645.4 508.78 645.41 508.26 645.4 507.75C645.39 507.24 645.36 506.73 645.32 506.24C645.28 505.75 645.23 505.27 645.16 504.8C645.08 504.33 645 503.87 644.89 503.43C644.79 502.98 644.68 502.55 644.54 502.14C644.41 501.72 644.26 501.32 644.1 500.93C643.94 500.54 643.76 500.17 643.57 499.82C643.38 499.47 643.18 499.13 642.96 498.81C642.75 498.49 642.52 498.19 642.27 497.91C642.03 497.62 641.77 497.36 641.5 497.11C641.24 496.87 640.96 496.64 640.67 496.44C640.38 496.23 640.07 496.05 639.76 495.88C639.45 495.72 639.13 495.57 638.79 495.45C638.46 495.33 638.12 495.23 637.77 495.15C637.42 495.07 637.06 495.01 636.7 494.97C636.34 494.93 635.96 494.91 635.58 494.92C635.21 494.92 634.82 494.95 634.43 495C634.04 495.05 633.65 495.12 633.25 495.21C632.85 495.3 632.45 495.41 632.04 495.54C631.64 495.68 631.23 495.83 630.82 496.01C630.41 496.18 630 496.38 629.59 496.59C629.18 496.81 628.76 497.04 628.35 497.29C627.94 497.55 627.53 497.82 627.13 498.11C626.72 498.41 626.31 498.72 625.91 499.04C625.51 499.37 625.11 499.72 624.71 500.08C624.32 500.44 623.93 500.82 623.54 501.21C623.16 501.61 622.59 502.23 622.4 502.44" stroke="#000" stroke-width="1.28"/>
<path d="M664.51 470C664.87 471.04 666.06 474.07 666.64 476.27C667.23 478.46 667.79 482.01 668.02 483.16" stroke="#000" stroke-width="1.05"/>
<path d="M669.52 502.33C671.3 503.42 676.73 506.51 680.18 508.85C683.62 511.19 687.69 514.28 690.2 516.37C692.71 518.45 694.25 520.08 695.21 521.38C696.17 522.67 695.84 523.68 695.96 524.14" stroke="#000" stroke-width="1.5"/>
<path d="M695.96 523.88 L695.96 532.66 L693.96 534.54 L680.18 541.43 L679.3 542.68 L677.67 541.68 L669.15 545.81" stroke="#000" stroke-width="1.43"/>
<path d="M670.15 523.88 L678.92 531.4 L692.71 524.64 L695.46 521.88" stroke="#000" stroke-width="1.43"/>
<path d="M670.15 537.67 L678.67 534.16 L679.67 534.16 L695.71 525.89" stroke="#000" stroke-width="1.05"/>
<path d="M679.05 531.4 L679.3 535.16" stroke="#000" stroke-width="1.35"/>
<path d="M670.4 525.76 L671.65 535.79" stroke="#000" stroke-width="0.97"/>
<path d="M670.15 527.02 L675.79 532.66" stroke="#000" stroke-width="0.97"/>
<ellipse cx="680.8" cy="519.87" rx="5.6" ry="3.4" fill="none" stroke="#000" stroke-width="1.1"/>
<path d="M535.46 567.44C535.82 567.67 535.99 568.55 537.59 568.82C539.2 569.09 542.82 569.13 545.11 569.07C547.41 569.01 550 568.71 551.38 568.44C552.76 568.17 553.05 567.61 553.38 567.44" stroke="#000" stroke-width="1.12"/>
<path d="M536.59 566.56 L552.63 566.56" stroke="#000" stroke-width="0.97"/>
<path d="M558.4 558.29 L558.27 572.08" stroke="#000" stroke-width="1.57"/>
<path d="M520.05 588.99 L521.3 592.13 L529.45 597.14" stroke="#000" stroke-width="1.43"/>
<path d="M525.86 584.83C530.56 583.13 548.62 576.64 554.05 574.68C559.49 572.71 557.71 573.32 558.44 573.05" stroke="#000" stroke-width="1.05"/>
<path d="M525.52 583.89C530.22 582.19 548.29 575.7 553.71 573.74C559.14 571.77 557.37 572.38 558.1 572.11" stroke="#000" stroke-width="1.05"/>
<path d="M526.94 585.23C531.22 584.29 546.68 580.32 552.63 579.59C558.58 578.86 559.73 579.91 562.66 580.85C565.58 581.79 568.92 584.5 570.18 585.23" stroke="#000" stroke-width="1.05"/>
<path d="M558.12 573.05C559.46 573.48 564.18 574.5 566.17 575.64C568.15 576.78 567.93 577.19 570.03 579.9C572.14 582.61 577.33 589.92 578.79 591.92" stroke="#000" stroke-width="1.05"/>
<path d="M558.42 572.1C559.8 572.55 564.6 573.58 566.67 574.78C568.73 575.97 568.66 576.53 570.82 579.29C572.98 582.05 578.14 589.32 579.6 591.33" stroke="#000" stroke-width="1.05"/>
<path d="M566.42 574.83 L587.72 583.35 L589.97 585.86" stroke="#000" stroke-width="1.2"/>
<path d="M529.82 585.86C532.16 586.78 539.01 589.49 543.86 591.37C548.71 593.25 555.93 596.05 558.9 597.14C561.86 598.22 560.78 597.87 561.65 597.89C562.53 597.91 563.32 597.6 564.16 597.26C565 596.93 562.74 597.99 566.67 595.88C570.59 593.78 584.21 586.49 587.72 584.61" stroke="#000" stroke-width="1.43"/>
<path d="M529.45 586.11 L529.45 597.14" stroke="#000" stroke-width="1.35"/>
<path d="M557.89 598.64 L557.89 608.67" stroke="#000" stroke-width="1.05"/>
<path d="M565.79 597.39 L565.79 607.41" stroke="#000" stroke-width="1.05"/>
<path d="M529.45 597.14C533.73 599.02 549.81 606.2 555.14 608.42C560.46 610.63 559.52 610.42 561.4 610.42C563.28 610.42 563.28 610 566.42 608.42C569.55 606.83 577.9 602.15 580.2 600.9" stroke="#000" stroke-width="1.43"/>
<path d="M580.2 600.9 L581.2 597.14 L594.99 589.62" stroke="#000" stroke-width="1.43"/>
<path d="M553.26 575.83 L553.26 580.85" stroke="#000" stroke-width="1.05"/>
<ellipse cx="557.64" cy="591.12" rx="5.6" ry="3.4" fill="none" stroke="#000" stroke-width="1.1"/>
<path d="M458.8 521.88C461.93 524.28 471.33 531.8 477.59 536.29C483.86 540.78 490.13 545.06 496.39 548.82C502.66 552.58 508.76 555.92 515.19 558.85C521.62 561.77 531.69 565.11 534.99 566.37" stroke="#000" stroke-width="1.43"/>
<path d="M455.66 523.13C458.9 525.74 468.72 533.99 475.09 538.8C481.46 543.6 487.2 548.09 493.88 551.95C500.57 555.82 508.34 559.12 515.19 561.98C522.04 564.84 531.69 567.93 534.99 569.12" stroke="#000" stroke-width="1.12"/>
<path d="M440 533.78 L471.33 553.58 L493.88 566.99 L526.47 585.16" stroke="#000" stroke-width="1.2"/>
<path d="M440 536.92 L470.08 555.71 L492.63 568.87 L525.21 587.04" stroke="#000" stroke-width="1.05"/>
<path d="M471.33 552.83 L470.83 555.34" stroke="#000" stroke-width="1.35"/>
<path d="M494.14 565.11 L493.63 568.25" stroke="#000" stroke-width="1.35"/>
<path d="M494.14 565.74C495.97 566.16 500.61 567.68 505.16 568.25C509.72 568.81 516.48 569.23 521.45 569.12C526.42 569.02 532.73 567.87 534.99 567.62" stroke="#000" stroke-width="1.12"/>
<path d="M448.8 421.28C447.96 423.58 445.08 430.05 443.78 435.06C442.49 440.08 441.55 446.13 441.03 451.35C440.51 456.57 440.71 459.92 440.65 466.39C440.59 472.87 440.76 484.77 440.65 490.2C440.55 495.63 440.13 497.51 440.03 498.97" stroke="#000" stroke-width="1.5"/>
<path d="M441.03 451.35C441.49 453.23 442.45 459.67 443.78 462.63C445.12 465.6 448.17 468.06 449.05 469.15" stroke="#000" stroke-width="1.12"/>
<path d="M457.01 395C455.69 396.42 450.63 401.81 449.11 403.52C447.59 405.23 448.07 404.61 447.86 405.28C447.65 405.94 447.77 406.36 447.86 407.53C447.94 408.7 448.27 411.5 448.36 412.29" stroke="#000" stroke-width="1.43"/>
<path d="M461.39 395C461.39 396.04 460.97 399.39 461.39 401.27C461.81 403.15 462.6 404.9 463.9 406.28C465.19 407.66 468.28 408.99 469.16 409.54" stroke="#000" stroke-width="1.43"/>
<path d="M467.03 398.76 L467.03 407.78" stroke="#000" stroke-width="1.05"/>
<path d="M556.35 443.18 L555.35 449.07" stroke="#000" stroke-width="1.05"/>
<path d="M581.42 442.56 L583.3 448.2" stroke="#000" stroke-width="1.05"/>
<path d="M555.73 450.08 L555.73 460.35" stroke="#000" stroke-width="1.2"/>
<path d="M581.42 449.45 L581.42 459.1" stroke="#000" stroke-width="1.2"/>
<path d="M555.73 460.1C556.88 460.62 560.22 462.61 562.62 463.23C565.02 463.86 567.63 464.07 570.14 463.86C572.64 463.65 575.57 462.71 577.66 461.98C579.75 461.25 577.28 462.4 582.67 459.47C588.06 456.55 605.43 446.94 609.99 444.44" stroke="#000" stroke-width="1.43"/>
<path d="M557.86 451.58C559.7 452.06 565.06 454.5 568.88 454.46C572.71 454.42 578.81 451.85 580.79 451.33" stroke="#000" stroke-width="1.43"/>
<path d="M562.62 472.63 L562.62 478.4" stroke="#000" stroke-width="1.05"/>
<path d="M565.75 472.63 L565.75 477.89" stroke="#000" stroke-width="1.05"/>
<path d="M559.49 478.9 L559.49 497.94" stroke="#000" stroke-width="1.2"/>
<path d="M568.88 478.27 L569.51 497.94" stroke="#000" stroke-width="1.05"/>
<path d="M648.25 409.45C648.25 410.81 648.56 415.61 648.25 417.59C647.93 419.58 647.31 420.1 646.37 421.35C645.43 422.61 650.33 420.73 642.61 425.11C634.88 429.5 607.1 443.91 600 447.67" stroke="#000" stroke-width="1.43"/>
<path d="M642.61 413.83 L642.61 425.11" stroke="#000" stroke-width="1.12"/>
<path d="M600 437.64 L642.61 415.09" stroke="#000" stroke-width="1.05"/>
<path d="M600 440.4 L641.98 418.22" stroke="#000" stroke-width="1.05"/>
<path d="M649.5 408.82C651.27 409.87 658.02 413.63 660.15 415.09C662.28 416.55 661.93 416.45 662.28 417.59C662.64 418.74 662.28 421.25 662.28 421.98" stroke="#000" stroke-width="1.43"/>
<path d="M662.28 417.59C661.72 418.64 660.51 421.77 658.9 423.86C657.29 425.95 656.39 427.51 652.63 430.13C648.87 432.74 645.11 434.76 636.34 439.52C627.57 444.29 606.06 455.5 600 458.7" stroke="#000" stroke-width="1.43"/>
<path d="M662.28 422.61C661.82 423.65 661.13 426.78 659.52 428.87C657.92 430.96 656.6 432.42 652.63 435.14C648.66 437.85 641.14 442.03 635.71 445.16C630.28 448.3 624.12 451.68 620.05 453.93C615.98 456.19 612.74 457.9 611.28 458.7" stroke="#000" stroke-width="1.43"/>
<path d="M635.71 439.52 L635.71 445.16" stroke="#000" stroke-width="1.05"/>
<path d="M620.68 448.3 L620.68 453.93" stroke="#000" stroke-width="1.05"/>
<path d="M662.28 421.35 L662.03 460.2" stroke="#000" stroke-width="1.5"/>
<path d="M658.9 428.87 L659.15 457.94" stroke="#000" stroke-width="1.05"/>
<path d="M532.53 343.78 L532.53 355.06" stroke="#000" stroke-width="1.05"/>
<path d="M548.82 345.04 L549.45 355.06" stroke="#000" stroke-width="1.05"/>
<path d="M553.83 347.54 L553.83 366.34" stroke="#000" stroke-width="1.2"/>
<path d="M556.34 348.17 L556.34 360.08" stroke="#000" stroke-width="1.05"/>
<ellipse cx="540.68" cy="356.82" rx="9.52" ry="5.76" fill="none" stroke="#000" stroke-width="1.5"/>
<ellipse cx="540.68" cy="356.07" rx="7.02" ry="4.01" fill="none" stroke="#000" stroke-width="1.2"/>
<ellipse cx="540.68" cy="356.07" rx="5.01" ry="2.76" fill="none" stroke="#000" stroke-width="0.9"/>
<path d="M531.28 356.94C531.32 357.78 530.69 360.49 531.53 361.95C532.36 363.42 534.45 364.94 536.29 365.71C538.13 366.49 540.57 366.8 542.56 366.59C544.54 366.38 546.94 365.34 548.2 364.46C549.45 363.58 549.76 362.58 550.08 361.33C550.39 360.08 550.08 357.67 550.08 356.94" stroke="#000" stroke-width="1.43"/>
<path d="M537.29 354.31 L544.06 357.94" stroke="#000" stroke-width="2.2"/>
<path d="M544.06 354.31 L537.29 357.94" stroke="#000" stroke-width="2.2"/>
<path d="M562.61 400.18C562.56 393.7 562.15 368.26 562.36 361.33C562.56 354.39 562.98 359.16 563.86 358.57C564.74 357.99 564.07 356.32 567.62 357.82C571.17 359.32 582.24 359.7 585.16 367.59C588.09 375.49 585.16 398.92 585.16 405.19" stroke="#000" stroke-width="1.43"/>
<path d="M565.11 361.33 L565.74 397.67" stroke="#000" stroke-width="1.5"/>
<path d="M567.62 362.58 L570.13 382.63 L568.25 397.67" stroke="#000" stroke-width="1.6"/>
<path d="M572.63 365.09 L570.13 380.13 L575.14 383.88 L573.88 367.59" stroke="#000" stroke-width="1.5"/>
<path d="M576.39 367.59 L578.9 382.63 L577.02 368.85" stroke="#000" stroke-width="1.8"/>
<path d="M581.4 370.1 L578.9 380.13 L582.66 383.88 L582.03 371.35" stroke="#000" stroke-width="1.5"/>
<path d="M569.5 385.14 L572.63 400.18 L575.14 386.39 L578.9 402.68 L581.4 388.9 L583.28 403.93" stroke="#000" stroke-width="1.57"/>
<path d="M570.13 388.9 L582.66 395.16" stroke="#000" stroke-width="1.35"/>
<path d="M567.62 400.18 L585.16 407.94" stroke="#000" stroke-width="1.35"/>
<path d="M563.23 358.2 L614.99 385.76" stroke="#000" stroke-width="1.12"/>
<path d="M585.16 368.85 L595.19 372.61 L595.19 391.4 L585.79 387.89" stroke="#000" stroke-width="1.35"/>
<path d="M592.06 371.35 L592.43 390.15" stroke="#000" stroke-width="1.2"/>
<path d="M601.45 380.13 L612.11 382.88 L612.73 400.18 L602.08 395.16 L601.45 380.13" stroke="#000" stroke-width="1.35"/>
<path d="M608.97 382.01 L609.47 398.67" stroke="#000" stroke-width="1.2"/>
<path d="M585.16 390.15 L614.99 405.19" stroke="#000" stroke-width="1.35"/>
<path d="M585.16 392.66 L612.73 406.69" stroke="#000" stroke-width="1.2"/>
<path d="M460.64 393.78C460.74 395.46 460.53 401.3 461.27 403.81C462 406.32 463.15 407.36 465.03 408.82C466.9 410.28 471.29 411.95 472.54 412.58" stroke="#000" stroke-width="1.35"/>
<path d="M467.53 400.05 L467.53 410.08" stroke="#000" stroke-width="1.05"/>
<path d="M510 350.9C513.03 349.13 524.25 342.4 528.2 340.3C532.15 338.2 531.73 338.77 533.7 338.3C535.67 337.83 537.9 337.5 540 337.5C542.1 337.5 544.33 337.77 546.3 338.3C548.27 338.83 547.85 338.67 551.8 340.7C555.75 342.73 566.97 348.87 570 350.5L620 380C623.42 381.78 636.17 388.2 640.5 390.7C644.83 393.2 644.55 393.37 646 395C647.45 396.63 648.6 398.92 649.2 400.5C649.8 402.08 649.8 403.25 649.6 404.5C649.4 405.75 648.98 406.88 648 408C647.02 409.12 644.42 410.67 643.7 411.2L600 434.5C597.17 436.07 586.28 442 583 443.9C579.72 445.8 581.82 445.17 580.3 445.9C578.78 446.63 576.28 447.83 573.9 448.3C571.52 448.77 568.37 448.9 566 448.7C563.63 448.5 561.53 447.9 559.7 447.1C557.87 446.3 558.28 445.8 555 443.9C551.72 442 542.5 437.07 540 435.7" stroke="#000" stroke-width="1.5"/>
<path d="M496.2 410.4C491.25 408.2 472.28 399.93 466.5 397.2C460.72 394.47 462.6 394.95 461.5 394C460.4 393.05 460.22 392.45 459.9 391.5C459.58 390.55 459.45 389.57 459.6 388.3C459.75 387.03 460.17 385.37 460.8 383.9C461.43 382.43 462.33 380.82 463.4 379.5C464.47 378.18 464.68 377.58 467.2 376C469.72 374.42 476.62 371 478.5 370L510 350.9" stroke="#000" stroke-width="1.5"/>
<path d="M600 430.5C596.97 432.15 585.22 438.48 581.8 440.4C578.38 442.32 580.95 441.35 579.5 442C578.05 442.65 575.35 443.85 573.1 444.3C570.85 444.75 568.23 444.95 566 444.7C563.77 444.45 561.4 443.58 559.7 442.8C558 442.02 559.08 441.85 555.8 440C552.52 438.15 542.63 433.08 540 431.7L496.2 410.4" stroke="#000" stroke-width="1.5"/>
<path d="M510 354.5C513.28 352.65 525.62 345.58 529.7 343.4C533.78 341.22 532.78 341.82 534.5 341.4C536.22 340.98 538.17 340.9 540 340.9C541.83 340.9 543.67 340.92 545.5 341.4C547.33 341.88 546.92 341.62 551 343.8C555.08 345.98 566.83 352.72 570 354.5L612.9 380C616.85 381.97 631.73 389.23 636.6 391.8C641.47 394.37 640.65 394.08 642.1 395.4C643.55 396.72 644.65 398.32 645.3 399.7C645.95 401.08 646.13 402.52 646 403.7C645.87 404.88 645.42 405.82 644.5 406.8C643.58 407.78 647.08 406.17 640.5 409.6C633.92 413.03 610.92 424.43 605 427.4L600 430.5" stroke="#000" stroke-width="1.43"/>
<path d="M500 407.3C495.17 405.03 476.73 396.45 471 393.7C465.27 390.95 466.82 391.7 465.6 390.8C464.38 389.9 463.97 389.35 463.7 388.3C463.43 387.25 463.53 385.87 464 384.5C464.47 383.13 465.33 381.35 466.5 380.1C467.67 378.85 467.83 378.68 471 377C474.17 375.32 483.08 371.17 485.5 370L510 354.5" stroke="#000" stroke-width="1.43"/>
<path d="M600 426.2C596.32 428.23 582.38 436.03 577.9 438.4C573.42 440.77 575.08 440.07 573.1 440.4C571.12 440.73 568.1 440.67 566 440.4C563.9 440.13 562.07 439.53 560.5 438.8C558.93 438.07 560.02 437.9 556.6 436C553.18 434.1 542.77 428.83 540 427.4L500 407.3" stroke="#000" stroke-width="1.2"/>
<path d="M628.7 389.1C630.02 389.82 634.77 392.22 636.6 393.4C638.43 394.58 639.05 395.15 639.7 396.2C640.35 397.25 640.63 398.58 640.5 399.7C640.37 400.82 639.82 401.97 638.9 402.9C637.98 403.83 640.65 402.28 635 405.3C629.35 408.32 610 418.38 605 421L600 426.2" stroke="#000" stroke-width="1.2"/>
<path d="M545 424.5C537.5 420.68 511.92 407.63 500 401.6C488.08 395.57 478.45 390.78 473.5 388.3C468.55 385.82 471.1 387.43 470.3 386.7C469.5 385.97 468.85 384.9 468.7 383.9C468.55 382.9 468.82 381.65 469.4 380.7C469.98 379.75 468.78 379.45 472.2 378.2C475.62 376.95 480.6 377.48 489.9 373.2C499.2 368.92 521.65 355.95 528 352.5" stroke="#000" stroke-width="1.12"/>
<path d="M500 409.2C494.63 406.77 473.9 397.45 467.8 394.6C461.7 391.75 464.45 393.03 463.4 392.1C462.35 391.17 461.72 390.27 461.5 389C461.28 387.73 462 385.25 462.1 384.5" stroke="#000" stroke-width="1.05"/>
<path d="M540 435.7L513.7 422.2 L466.5 398.8" stroke="#000" stroke-width="1.05"/>
<path d="M600 438.8C597.23 440.25 586.57 445.78 583.4 447.5C580.23 449.22 582.58 448.38 581 449.1C579.42 449.82 576.27 451.28 573.9 451.8C571.53 452.32 569.17 452.38 566.8 452.2C564.43 452.02 561.67 451.42 559.7 450.7C557.73 449.98 558.28 449.82 555 447.9C551.72 445.98 542.5 440.65 540 439.2L513.7 424.4 L465.5 401" stroke="#000" stroke-width="1.12"/>
<path d="M643 414.5L600 438.8" stroke="#000" stroke-width="1.12"/>
<path d="M471.58 379.21 L471.58 386.63" stroke="#000" stroke-width="1.05"/>
<path d="M497.63 383.16 L497.63 364.21 L508.69 358.68 L510.58 360.26 L510.58 381.58" stroke="#000" stroke-width="1.35"/>
<path d="M500 381.58 L500 365.47 L509.48 361.05" stroke="#000" stroke-width="1.12"/>
<path d="M500 369.74 L510.27 365" stroke="#000" stroke-width="1.12"/>
<path d="M508.69 369.74 L508.69 381.58" stroke="#000" stroke-width="1.05"/>
<path d="M475.21 388.69C475.79 388.34 477.19 386.98 478.69 386.63C480.19 386.29 482.5 386.16 484.21 386.63C485.92 387.11 487.98 388.34 488.95 389.48C489.92 390.61 489.87 392.77 490.05 393.42" stroke="#000" stroke-width="1.35"/>
<path d="M478.69 389.48C479.21 389.29 480.66 388.37 481.84 388.37C483.03 388.37 484.87 388.9 485.79 389.48C486.71 390.05 487.11 391.45 487.37 391.84" stroke="#000" stroke-width="1.12"/>
<path d="M480.26 389.48 L485.79 392.32" stroke="#000" stroke-width="1.57"/>
<path d="M487.37 389 L493.69 383.95 L500.79 383.16 L502.69 385.69 L501.11 392.63" stroke="#000" stroke-width="1.28"/>
<path d="M493.69 384.42 L493.69 397.37" stroke="#000" stroke-width="1.2"/>
<path d="M495.27 388.69 L495.27 397.37" stroke="#000" stroke-width="1.05"/>
<path d="M501.11 391.37 L502.69 396.11" stroke="#000" stroke-width="1.2"/>
<path d="M503.16 387.42 L530.79 373.69 L549.74 365" stroke="#000" stroke-width="1.43"/>
<path d="M504.74 389.48 L537.9 373.69" stroke="#000" stroke-width="1.05"/>
<path d="M507.11 393.74 L537.9 378.74" stroke="#000" stroke-width="1.2"/>
<path d="M507.9 395.79 L518.16 391.05 L518.16 397.37 L507.9 402.11 L507.9 395.79" stroke="#000" stroke-width="1.43"/>
<path d="M509.48 397.37 L516.58 394.21 L516.58 396.74" stroke="#000" stroke-width="1.6"/>
<path d="M519.74 390.27 L537.9 381.11 L537.9 386.63 L519.74 395.79 L519.74 390.27" stroke="#000" stroke-width="1.43"/>
<path d="M521.32 391.37 L536.32 383.95" stroke="#000" stroke-width="1.8"/>
<path d="M539.48 377.16 L548.16 372.42 L548.16 379.53 L539.48 383.48 L539.48 377.16" stroke="#000" stroke-width="1.43"/>
<path d="M541.53 377.63 L546.58 375.26 L546.58 379.21" stroke="#000" stroke-width="1.2"/>
<path d="M507.9 402.42 L509 404.79" stroke="#000" stroke-width="1.2"/>
<path d="M511.06 370.21 L532.37 359.79" stroke="#000" stroke-width="1.05"/>
<path d="M511.85 381.58 L529.21 373.37" stroke="#000" stroke-width="1.05"/>
<ellipse cx="528.42" cy="368.63" rx="2.21" ry="1.26" fill="none" stroke="#000" stroke-width="1.4"/>
<ellipse cx="527" cy="373.69" rx="1.89" ry="1.11" fill="none" stroke="#000" stroke-width="1.4"/>
<path d="M512.63 373.69 L512.63 379.21 L515.79 378.11" stroke="#000" stroke-width="1.35"/>
<path d="M549.74 365 L549.74 399.27" stroke="#000" stroke-width="1.35"/>
<path d="M556.06 359.47 L556.06 403.69" stroke="#000" stroke-width="1.35"/>
<path d="M549.74 365 L556.06 361.37" stroke="#000" stroke-width="1.2"/>
<path d="M535.53 391.05 L541.06 388.69 L541.85 406.85 L537.11 410 L535.53 391.05" stroke="#000" stroke-width="1.43"/>
<path d="M537.43 391.37 L538.69 408.11" stroke="#000" stroke-width="2"/>
<path d="M545 385.53 L549.74 383.16 L550.53 402.11 L545.79 404.48 L545 385.53" stroke="#000" stroke-width="1.43"/>
<path d="M546.9 386 L547.85 402.9" stroke="#000" stroke-width="2"/>
<path d="M537.11 410 L549.74 403.69" stroke="#000" stroke-width="1.2"/>
<path d="M537.11 410 L537.11 424.21" stroke="#000" stroke-width="1.12"/>
<path d="M550.53 403.69 L551.01 428.95" stroke="#000" stroke-width="1.12"/>
<path d="M556.85 403.69 L557.95 432.11" stroke="#000" stroke-width="1.12"/>
<path d="M530.79 418.21 L537.11 415.06" stroke="#000" stroke-width="1.12"/>
<path d="M556.06 383.16 L559.22 380.79 L563.95 382.37 L563.95 402.11 L560.01 404 L556.06 401.32" stroke="#000" stroke-width="1.28"/>
<path d="M559.53 381.26 L560.01 403.69" stroke="#000" stroke-width="1.12"/>
<path d="M473.95 389.79 L507.11 406.37 L556.06 430.85" stroke="#000" stroke-width="1.05"/>
<path d="M582.9 365C590.27 368.95 618.16 384 627.11 388.69C636.06 393.37 634.27 391.4 636.58 393.11C638.9 394.82 640.35 397.05 641.01 398.95C641.66 400.84 640.61 403.55 640.53 404.48" stroke="#000" stroke-width="1.12"/>
<path d="M584.48 369.74 L593.16 373.68 L593.95 391.05 L585.27 387.11 L584.48 369.74" stroke="#000" stroke-width="1.35"/>
<path d="M590.79 372.58 L591.58 389.95" stroke="#000" stroke-width="1.2"/>
<path d="M601.85 379.21 L610.53 383.16 L610.53 401.32 L602.16 397.37 L601.85 379.21" stroke="#000" stroke-width="1.35"/>
<path d="M608.16 382.05 L608.48 400.37" stroke="#000" stroke-width="1.2"/>
<path d="M615.27 388.69 L623.95 392.63 L624.74 404.48" stroke="#000" stroke-width="1.28"/>
<path d="M615.27 388.69 L616.06 400.53" stroke="#000" stroke-width="1.28"/>
<path d="M627.9 391.05 L627.9 405.27" stroke="#000" stroke-width="1.12"/>
<path d="M582.11 392.63 L614.48 406.37" stroke="#000" stroke-width="1.43"/>
<path d="M584.48 395.79 L611.32 408.42" stroke="#000" stroke-width="1.2"/>
<path d="M565.53 398.95 L586.05 408.42 L592.37 412.37" stroke="#000" stroke-width="1.2"/>
<path d="M584.48 398.95 L585.27 412.37 L592.37 416.32 L592.37 402.11" stroke="#000" stroke-width="1.2"/>
<path d="M555.26 383.95 L558.42 380.79 L563.95 382.37 L563.95 402.9 L560.79 404.48 L556.05 402.11 L555.26 383.95" stroke="#000" stroke-width="1.35"/>
<path d="M560.47 382.05 L560.79 404.16" stroke="#000" stroke-width="1.2"/>
<path d="M550.53 404.48 L551.32 428.16" stroke="#000" stroke-width="1.12"/>
<path d="M557.32 402.9 L557.95 434.48" stroke="#000" stroke-width="1.12"/>
<path d="M565.53 400.05 L566.32 431.32" stroke="#000" stroke-width="1.12"/>
<path d="M618.42 408.42C618.82 407.77 619.35 405.45 620.79 404.48C622.24 403.5 625 402.63 627.11 402.58C629.21 402.53 631.98 403.37 633.43 404.16C634.87 404.95 635.4 406.79 635.79 407.32" stroke="#000" stroke-width="1.35"/>
<path d="M622.37 407.32C622.9 406.98 624.21 405.53 625.53 405.27C626.85 405 629.16 405.29 630.27 405.74C631.37 406.19 631.85 407.58 632.16 407.95" stroke="#000" stroke-width="1.2"/>
<path d="M624.74 405.27 L629.48 408.42" stroke="#000" stroke-width="1.6"/>
<path d="M597.11 419.48 L601.85 413.95 L608.16 412.37 L614.48 408.42 L619.21 406.84 L620.79 410.79 L614.48 413.95 L608.16 417.11 L601.85 420.27 L597.11 419.48" stroke="#000" stroke-width="1.43"/>
<path d="M599.48 417.9 L607.37 414.27 L612.9 412.37" stroke="#000" stroke-width="1.8"/>
<path d="M590.79 422.63 L597.11 419.48 L597.9 425.79 L591.58 428.16 L590.79 422.63" stroke="#000" stroke-width="1.35"/>
<path d="M568.69 433.21 L573.42 429.74 L582.9 428.16 L586.37 431.32 L581.32 434.48 L573.42 436.06 L568.69 433.21" stroke="#000" stroke-width="1.43"/>
<path d="M572.63 432.11 L582.11 430.06" stroke="#000" stroke-width="1.8"/>
<ellipse cx="568.69" cy="438.42" rx="2.21" ry="1.11" fill="none" stroke="#000" stroke-width="1"/>
<path d="M545 426.9 L554.47 431.32 L556.84 434.48" stroke="#000" stroke-width="1.12"/>
<path d="M560.79 437.95 L568.69 433.85" stroke="#000" stroke-width="1.12"/>
<path d="M448.16 406.05 L472.16 418.69 L474.37 416.16 L478.95 412.84 L483.69 413.95 L487.32 417.9" stroke="#000" stroke-width="1.35"/>
<path d="M487.32 417.9 L490.79 420.58 L495.53 423.11 L498.37 422.16 L523.95 436.37 L525.85 439.53 L528.69 441.11" stroke="#000" stroke-width="1.2"/>
<path d="M527.49 442.39C528.64 442.6 532.34 442.94 534.39 443.65C536.43 444.36 538.35 445.61 539.77 446.65C541.19 447.7 542.28 448.74 542.91 449.91C543.53 451.08 543.85 452.54 543.53 453.67C543.22 454.8 542.03 455.76 541.03 456.68C540.03 457.6 538.1 458.77 537.52 459.19" stroke="#000" stroke-width="1.35"/>
<path d="M528.75 446.4C529.9 446.74 533.88 447.57 535.64 448.41C537.39 449.24 538.75 450.33 539.27 451.42C539.8 452.5 539.44 453.92 538.77 454.92C538.1 455.93 536.73 457.22 535.26 457.43C533.8 457.64 530.88 456.39 530 456.18" stroke="#000" stroke-width="1.12"/>
<path d="M537.5 459 L562.7 472.4" stroke="#000" stroke-width="1.43"/>
<path d="M478.95 415.21 L523.95 438.42 L538.16 445.84" stroke="#000" stroke-width="1.05"/>
<path d="M475 418.69 L539.74 452.79" stroke="#000" stroke-width="1.05"/>
<path d="M468.69 410.79 L558.69 456.9" stroke="#000" stroke-width="1.43"/>
<path d="M481.32 426.58 L480.05 429.42 L497.9 438.42 L499.48 435.74 L481.32 426.58" stroke="#000" stroke-width="1.2"/>
<path d="M481.63 428.16 L498.37 436.84" stroke="#000" stroke-width="1.05"/>
<path d="M448.47 409.53 L471.21 421.53 L473.42 419" stroke="#000" stroke-width="1.05"/>
<path d="M512.11 443.95 L511 446.79 L527.11 455 L528.69 452.16 L512.11 443.95" stroke="#000" stroke-width="1.2"/>
<path d="M512.42 445.53 L527.58 453.42" stroke="#000" stroke-width="1.05"/>
<path d="M562.37 472.38 L566.38 472.38 L609.99 456.09" stroke="#000" stroke-width="1.43"/>
<path d="M447.73 412.98C457.23 418.36 485.64 434.39 504.73 445.28C523.81 456.16 552.64 472.78 562.23 478.28" stroke="#000" stroke-width="1.09"/>
<path d="M448.27 412.02C457.77 417.4 486.19 433.44 505.27 444.32C524.36 455.21 553.19 471.82 562.77 477.32" stroke="#000" stroke-width="1.09"/>
<path d="M562.5 477.8 L565.5 478.3 L568 477.5 L609.8 462" stroke="#000" stroke-width="1.43"/>
<path d="M448.4 413 L448.6 470" stroke="#000" stroke-width="1.05"/>
<path d="M450.9 415 L450.9 496" stroke="#777" stroke-width="1.7"/>
<path d="M449.6 470 L449.4 508" stroke="#000" stroke-width="1.35"/>
</svg>
</body>
</html>
